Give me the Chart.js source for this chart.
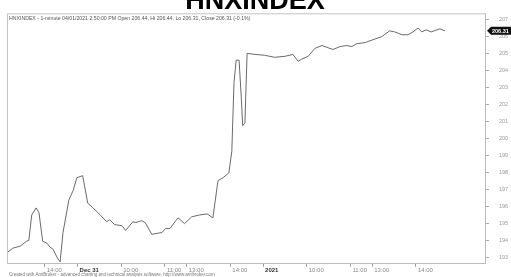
<!DOCTYPE html>
<html><head><meta charset="utf-8">
<script src="https://cdn.jsdelivr.net/npm/chart.js@4.4.0/dist/chart.umd.min.js"></script>
<style>html,body{margin:0;padding:0;background:#fff;overflow:hidden}#wrap{width:511px;height:277px;position:relative}</style>
</head><body><div id="wrap"><canvas id="c" width="511" height="277"></canvas></div>
<script>
const titleText = "HNXINDEX";
const subtitleText = "HNXINDEX - 1-minute 04/01/2021 2:50:00 PM Open 206.44, Hi 206.44, Lo 206.31, Close 206.31 (-0.1%)";
const footnoteText = "Created with AmiBroker - advanced charting and technical analysis software. http://www.amibroker.com";

// trading-minute index (sessions stitched) and index values
const times = [9,16,26,35,38,42,48,52,57,63,67,71,78,81,85,93,99,104,112,119,125,136,145,149,156,166,171,181,185,193,198,207,221,226,232,243,252,262,273,283,291,298,305,313,317,320,323,327,330,332,335,338,349,362,376,390,401,408,413,422,431,441,448,456,466,475,482,489,500,511,523,534,541,551,559,566,573,578,584,591,599,603,610];
const values = [193.34,193.57,193.69,193.98,194.03,195.52,195.93,195.64,193.98,193.86,193.63,193.52,192.94,192.77,194.49,196.39,196.96,197.70,197.82,196.21,195.98,195.52,195.12,195.24,194.95,194.89,194.61,195.12,195.07,195.18,195.07,194.38,194.49,194.72,194.72,195.35,195.01,195.41,195.52,195.58,195.35,197.53,197.70,197.99,199.25,203.27,204.59,204.59,202.41,200.75,200.92,204.99,204.93,204.88,204.76,204.82,204.93,204.53,204.65,204.82,205.28,205.45,205.34,205.22,205.39,205.45,205.39,205.56,205.62,205.79,205.97,206.31,206.25,206.08,206.08,206.25,206.48,206.25,206.37,206.25,206.37,206.43,206.31];

const xTickTimes = [60,105,165,225,255,315,360,420,480,510,570];
const xTickLabels = ["14:00","Dec 31","10:00","11:00","13:00","14:00","2021","10:00","11:00","13:00","14:00"];
const xTickBold = [false,true,false,false,false,false,true,false,false,false,false];
const yTicks = [193,194,195,196,197,198,199,200,201,202,203,204,205,206,207];
const lastClose = 206.31;

const FONT = "'Liberation Sans', Arial, sans-serif";

const extras = {
  id: 'extras',
  afterDraw(chart) {
    const ctx = chart.ctx, a = chart.chartArea;
    ctx.save();
    ctx.strokeStyle = '#c4c4c4';
    ctx.lineWidth = 1;
    ctx.beginPath();
    ctx.moveTo(a.left + 0.5, a.bottom);
    ctx.lineTo(a.left + 0.5, a.top + 0.5);
    ctx.lineTo(a.right, a.top + 0.5);
    ctx.stroke();
    ctx.fillStyle = '#555';
    ctx.font = '5.2px ' + FONT;
    ctx.textAlign = 'left';
    ctx.textBaseline = 'middle';
    ctx.fillText(subtitleText, a.left + 2, a.top + 5);
    ctx.fillStyle = '#777';
    ctx.font = '4.5px ' + FONT;
    ctx.fillText(footnoteText, a.left + 2, 274.5);
    const y = chart.scales.y.getPixelForValue(lastClose);
    const x0 = a.right + 2, x1 = 511;
    ctx.fillStyle = '#111';
    ctx.beginPath();
    ctx.moveTo(x0, y);
    ctx.lineTo(x0 + 4, y - 4);
    ctx.lineTo(x1, y - 4);
    ctx.lineTo(x1, y + 4);
    ctx.lineTo(x0 + 4, y + 4);
    ctx.closePath();
    ctx.fill();
    ctx.fillStyle = '#fff';
    ctx.font = 'bold 5.5px ' + FONT;
    ctx.textAlign = 'left';
    ctx.fillText(lastClose.toFixed(2), x0 + 5, y + 0.5);
    ctx.fillStyle = '#000';
    ctx.font = 'bold 27px ' + FONT;
    ctx.textAlign = 'center';
    ctx.textBaseline = 'alphabetic';
    ctx.fillText(titleText, 255, 9);
    ctx.restore();
  }
};

new Chart(document.getElementById('c'), {
  type: 'line',
  data: {
    datasets: [{
      data: times.map((t, i) => ({x: t, y: values[i]})),
      borderColor: '#6a6a6a',
      borderWidth: 1,
      pointRadius: 0,
      tension: 0,
      fill: false
    }]
  },
  options: {
    responsive: false,
    devicePixelRatio: 1,
    animation: false,
    layout: {padding: {left: 7, top: 9, right: 0, bottom: 0}},
    plugins: {legend: {display: false}, tooltip: {enabled: false}, title: {display: false}},
    scales: {
      x: {
        type: 'linear',
        min: 8, max: 665,
        afterBuildTicks: s => { s.ticks = xTickTimes.map(v => ({value: v})); },
        afterFit: s => { s.height = 12; },
        ticks: {
          autoSkip: false, maxRotation: 0, minRotation: 0,
          align: 'start', labelOffset: 2, padding: 0,
          callback: (v, i) => xTickLabels[i],
          font: c => ({family: FONT, size: 6, weight: xTickBold[c.index] ? 'bold' : 'normal'}),
          color: c => xTickBold[c.index] ? '#333' : '#888'
        },
        grid: {drawOnChartArea: false, drawTicks: true, tickLength: 3, color: '#999'},
        border: {display: true, color: '#bdbdbd'}
      },
      y: {
        position: 'right',
        min: 192.66, max: 207.34,
        afterBuildTicks: s => { s.ticks = yTicks.map(v => ({value: v})); },
        afterFit: s => { s.width = 26; },
        ticks: {
          padding: 10,
          callback: v => String(v),
          font: {family: FONT, size: 5.5},
          color: '#999'
        },
        grid: {drawOnChartArea: false, drawTicks: true, tickLength: 4, color: '#aaa'},
        border: {display: true, color: '#bdbdbd'}
      }
    }
  },
  plugins: [extras]
});
</script>
</body></html>
